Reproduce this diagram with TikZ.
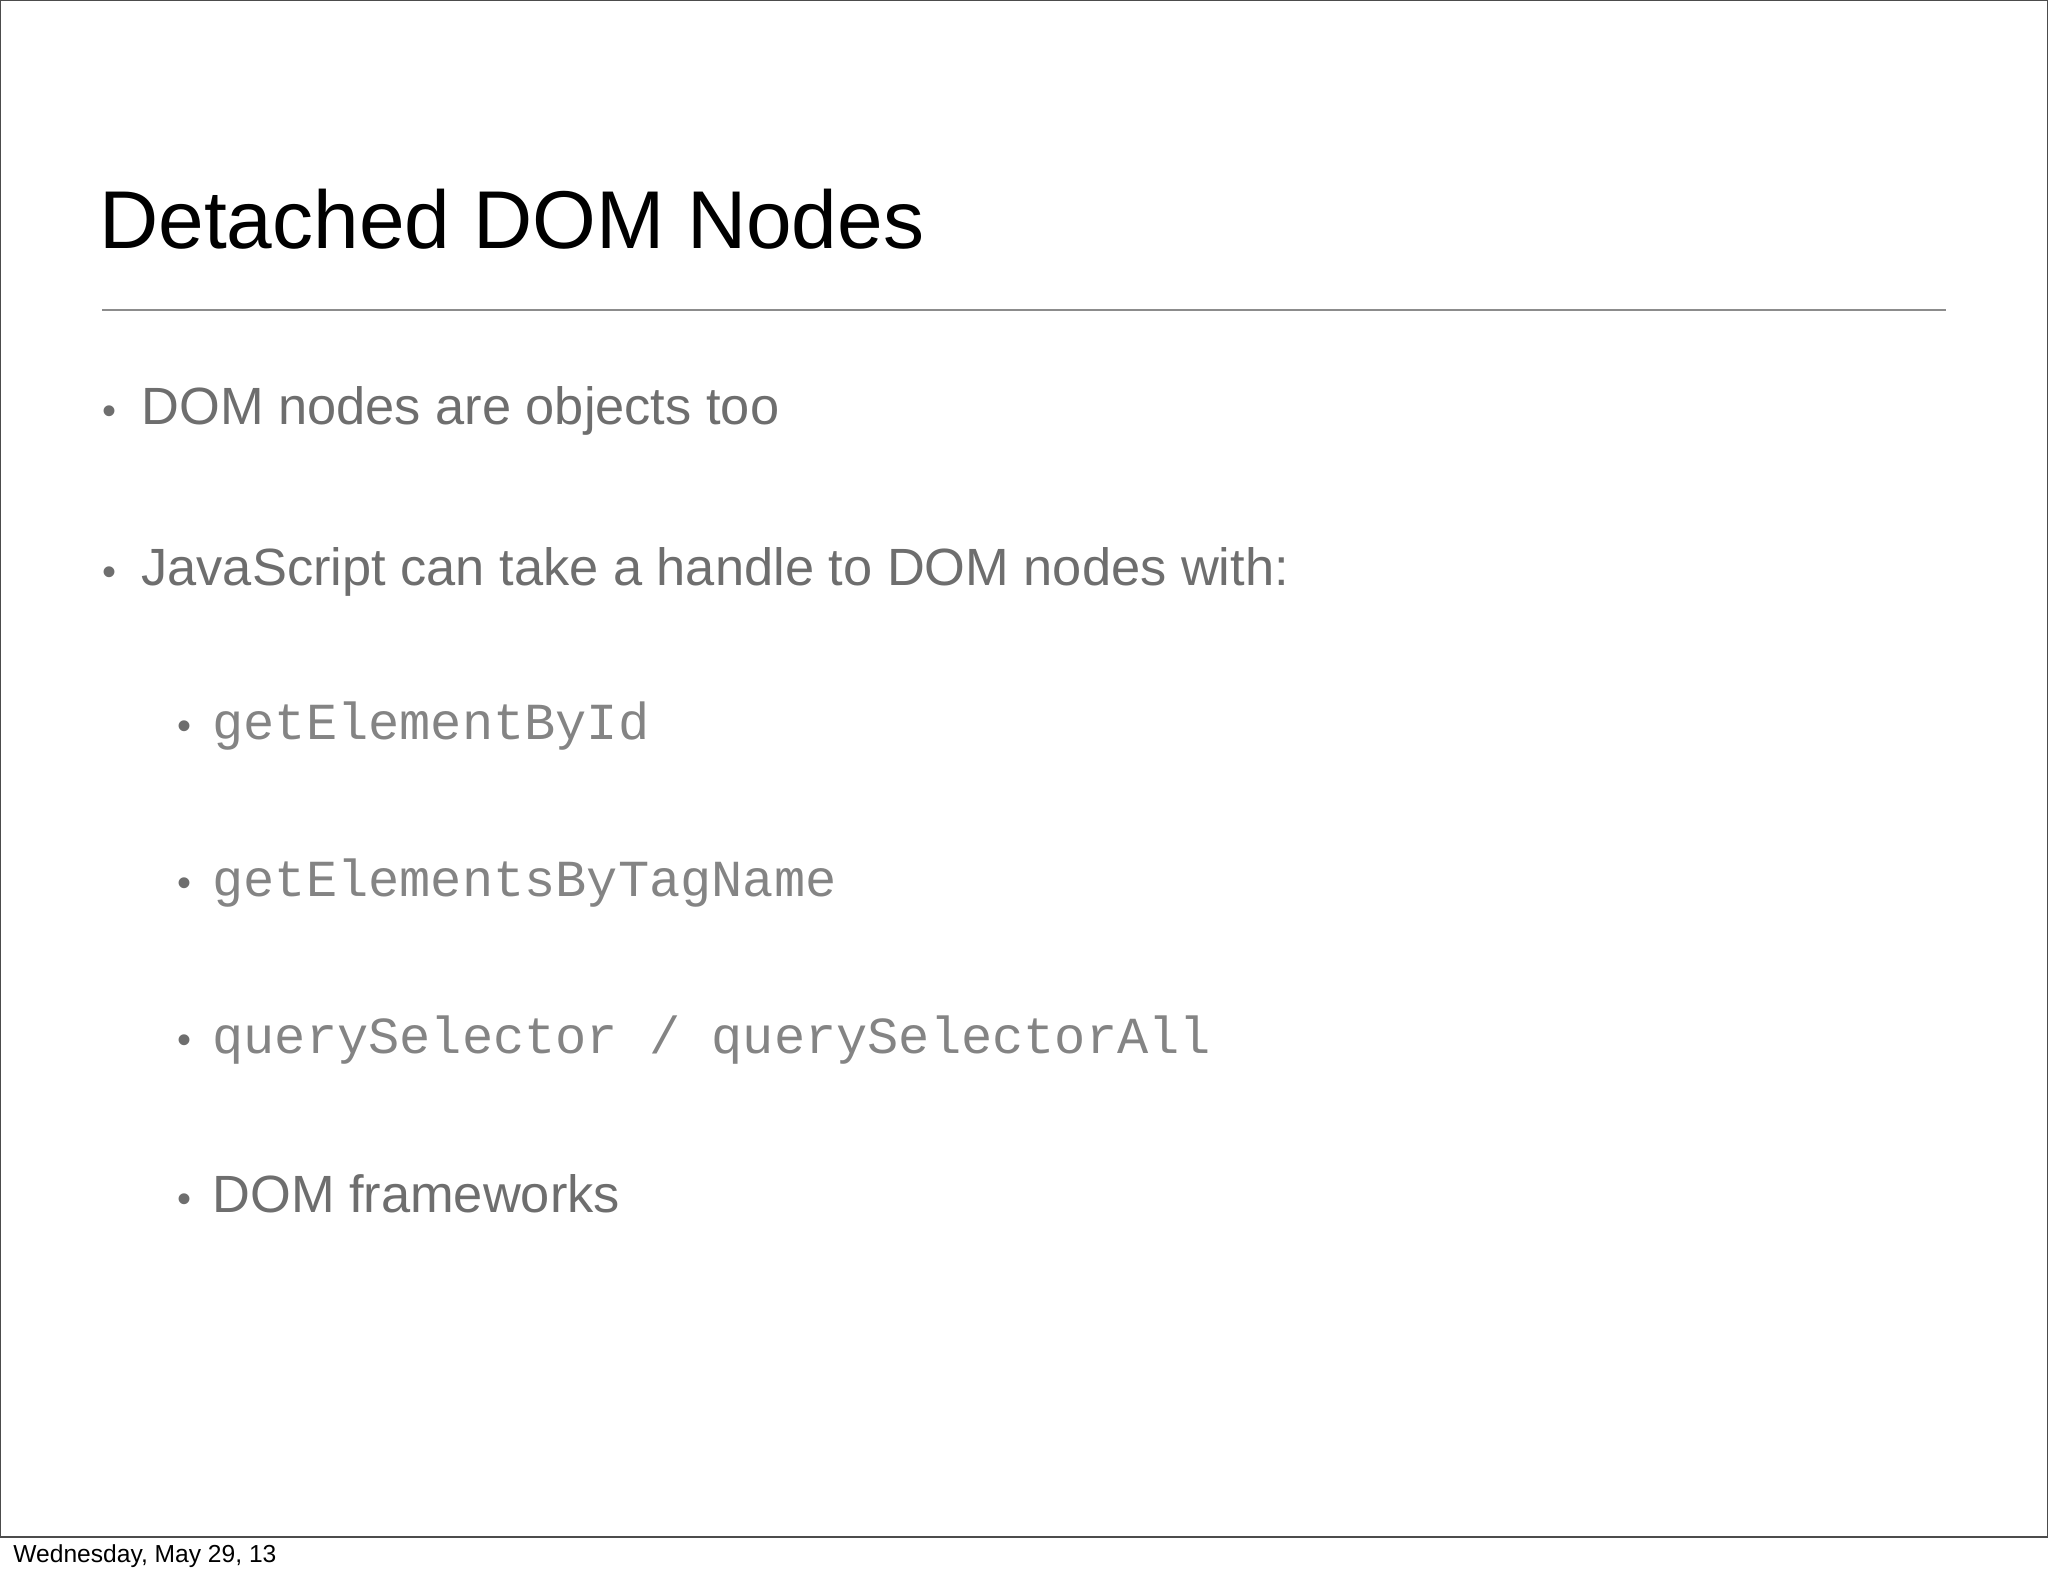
\documentclass[tikz,border=0pt]{standalone}
\usepackage{fontspec}
\setmainfont{Liberation Sans}
\newfontfamily\monofont{Liberation Mono}
\definecolor{txt}{HTML}{6E6E6E}
\begin{document}
\begin{tikzpicture}[x=0.5pt,y=-0.5pt,
  body/.style={anchor=base west,inner sep=0,text=txt,font=\fontsize{26.2}{32}\selectfont},
  code/.style={anchor=base west,inner sep=0,text=txt!85,font=\monofont\fontsize{26}{30}\selectfont},
  dot/.style={anchor=base west,inner sep=0,text=txt,font=\fontsize{20}{24}\selectfont}]
\useasboundingbox (0,0) rectangle (2048,1576);
\draw[black!70,line width=0.8pt] (0,0) rectangle (2048,1537);
\node[anchor=base west,inner sep=0,font=\fontsize{41}{50}\selectfont] (title) at (99,248) {Detached DOM Nodes};
\coordinate (rl) at (102,310); \coordinate (rr) at (1946,310);
\draw[black!45,line width=0.8pt] (rl) -- (rr);
\node[dot] (d1) at (102,424) {•};
\node[body] (b1) at (141,424) {DOM nodes are objects too};
\node[dot] (d2) at (102,585) {•};
\node[body] (b2) at (141,585) {JavaScript can take a handle to DOM nodes with:};
\node[dot] (d3) at (177,739) {•};
\node[code] (c1) at (212,739) {getElementById};
\node[dot] (d4) at (177,896) {•};
\node[code] (c2) at (212,896) {getElementsByTagName};
\node[dot] (d5) at (177,1053) {•};
\node[code] (c3) at (212,1053) {querySelector / querySelectorAll};
\node[dot] (d6) at (177,1212) {•};
\node[body] (b3) at (212,1212) {DOM frameworks};
\node[anchor=base west,inner sep=0,font=\fontsize{12.3}{15}\selectfont] (foot) at (13,1562) {Wednesday, May 29, 13};
\end{tikzpicture}
\end{document}
